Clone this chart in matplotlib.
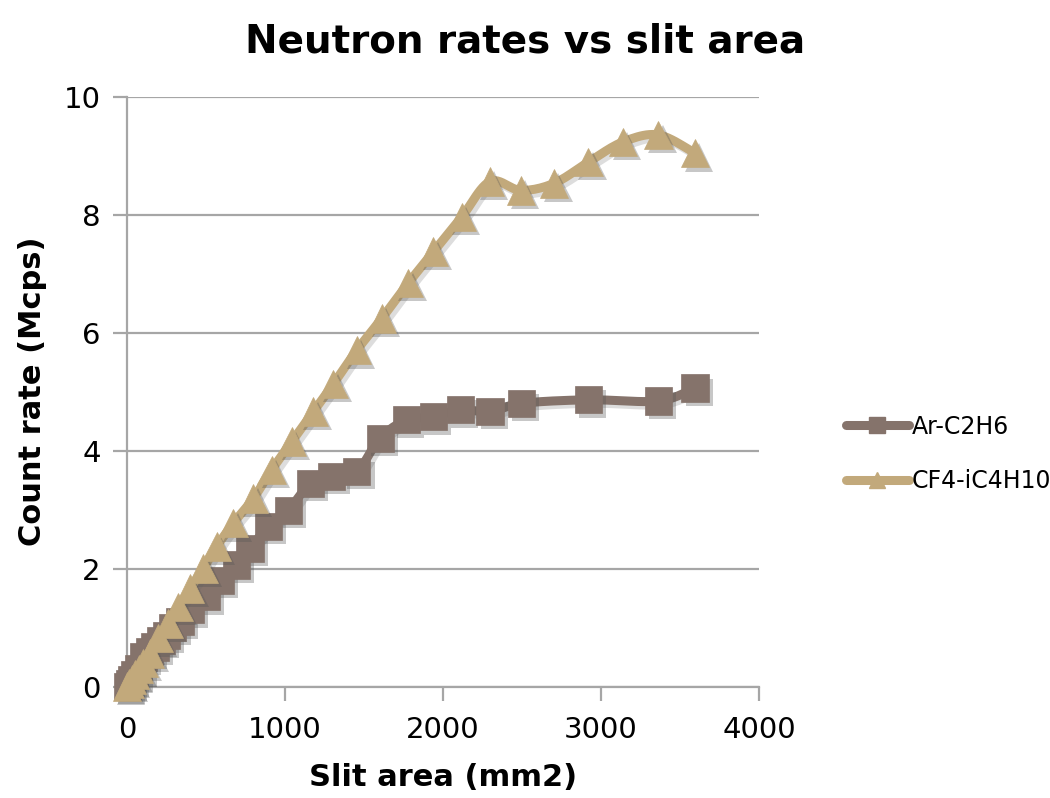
import numpy as np
import matplotlib
matplotlib.use("Agg")
import matplotlib.pyplot as plt
import matplotlib.patheffects as pe

# ---- data ----
ar_x = [0, 15, 30, 50, 75, 103, 140, 177, 215, 251, 290, 335, 399, 504, 589, 694, 778,
        894, 1021, 1158, 1296, 1454, 1601, 1770, 1939, 2108, 2297, 2497, 2920, 3363, 3594]
ar_y = [0.0, 0.05, 0.12, 0.2, 0.3, 0.5, 0.6, 0.67, 0.78, 0.87, 1.0, 1.10, 1.30, 1.52, 1.80,
        2.06, 2.34, 2.71, 2.99, 3.44, 3.56, 3.64, 4.21, 4.52, 4.57, 4.69, 4.66, 4.80, 4.86,
        4.84, 5.06]
cf_x = [0, 15, 30, 50, 75, 103, 146, 198, 261, 325, 399, 483, 567, 673, 800, 915, 1042,
        1179, 1306, 1454, 1612, 1780, 1939, 2118, 2297, 2492, 2703, 2920, 3137, 3363, 3594]
cf_y = [0.0, 0.05, 0.12, 0.2, 0.3, 0.4, 0.56, 0.82, 1.07, 1.35, 1.66, 2.0, 2.37, 2.77,
        3.19, 3.67, 4.15, 4.66, 5.13, 5.70, 6.24, 6.84, 7.37, 7.96, 8.56, 8.41, 8.53, 8.89,
        9.23, 9.35, 9.04]
series_names = ["Ar-C2H6", "CF4-iC4H10"]
x_ticks = [0, 1000, 2000, 3000, 4000]
y_ticks = [0, 2, 4, 6, 8, 10]

fig = plt.figure(figsize=(10.5, 7.98), dpi=100)
ax = fig.add_axes([0.121, 0.1397, 0.602, 0.7393])
ax.set_xlim(0, 4000)
ax.set_ylim(0, 10)


def smooth(xs, ys, n=12):
    # Catmull-Rom style smoothing (like spreadsheet smoothed lines) in screen-scaled space
    sx, sy = 632 / 4000.0, 590 / 10.0
    P = np.column_stack([np.asarray(xs, float) * sx, np.asarray(ys, float) * sy])
    pts = np.vstack([P[0], P, P[-1]])
    out = []
    for i in range(1, len(pts) - 2):
        p0, p1, p2, p3 = pts[i - 1], pts[i], pts[i + 1], pts[i + 2]
        t = np.linspace(0, 1, n, endpoint=False)[:, None]
        c = 0.5 * ((2 * p1) + (-p0 + p2) * t + (2 * p0 - 5 * p1 + 4 * p2 - p3) * t ** 2
                   + (-p0 + 3 * p1 - 3 * p2 + p3) * t ** 3)
        out.append(c)
    out.append(P[-1:])
    out = np.vstack(out)
    return out[:, 0] / sx, out[:, 1] / sy


ar_col = "#85736b"
cf_col = "#c2a97b"
line_shadow = [pe.SimpleLineShadow(offset=(2.5, -2.5), shadow_color="#666666", alpha=0.22),
               pe.Normal()]
mk_shadow = [pe.SimplePatchShadow(offset=(3, -3), shadow_rgbFace="#555555", alpha=0.33),
             pe.Normal()]

for xs, ys, col, mk, ms, name, z in [
    (ar_x, ar_y, ar_col, "s", 19.5, series_names[0], 3),
    (cf_x, cf_y, cf_col, "^", 20.5, series_names[1], 4),
]:
    lx, ly = smooth(xs, ys)
    ax.plot(lx, ly, color=col, lw=6.5, solid_capstyle="round", solid_joinstyle="round",
            zorder=z, clip_on=False, path_effects=line_shadow)
    ax.plot(xs, ys, linestyle="none", marker=mk, markersize=ms, color=col,
            markeredgecolor=col, markeredgewidth=0.5, zorder=z + 0.5, clip_on=False,
            path_effects=mk_shadow)
    ax.plot([], [], color=col, lw=6.5, marker=mk, markersize=12, label=name,
            solid_capstyle="round")

ax.set_xticks(x_ticks)
ax.set_yticks(y_ticks)
ax.set_xticklabels([str(v) for v in x_ticks])
ax.set_yticklabels([str(v) for v in y_ticks])
ax.yaxis.grid(True, color="#a6a6a6", lw=1.6)
ax.set_axisbelow(True)
for s in ["top", "right"]:
    ax.spines[s].set_visible(False)
for s in ["left", "bottom"]:
    ax.spines[s].set_color("#a6a6a6")
    ax.spines[s].set_linewidth(1.6)
ax.tick_params(axis="both", colors="#a6a6a6", width=1.6, length=10, labelsize=21,
               labelcolor="black", direction="out")
ax.tick_params(axis="x", pad=11)
ax.tick_params(axis="y", pad=9)

ax.set_xlabel("Slit area (mm2)", fontsize=22, fontweight="bold", labelpad=14)
ax.set_ylabel("Count rate (Mcps)", fontsize=22, fontweight="bold", labelpad=12)
fig.text(0.5, 0.948, "Neutron rates vs slit area", ha="center", va="center",
         fontsize=28, fontweight="bold")

leg = fig.legend(loc="center left", bbox_to_anchor=(0.785, 0.431), frameon=False,
                 fontsize=17, handlelength=2.7, handletextpad=0.1, labelspacing=1.3)

fig.savefig("out.png", dpi=100)
